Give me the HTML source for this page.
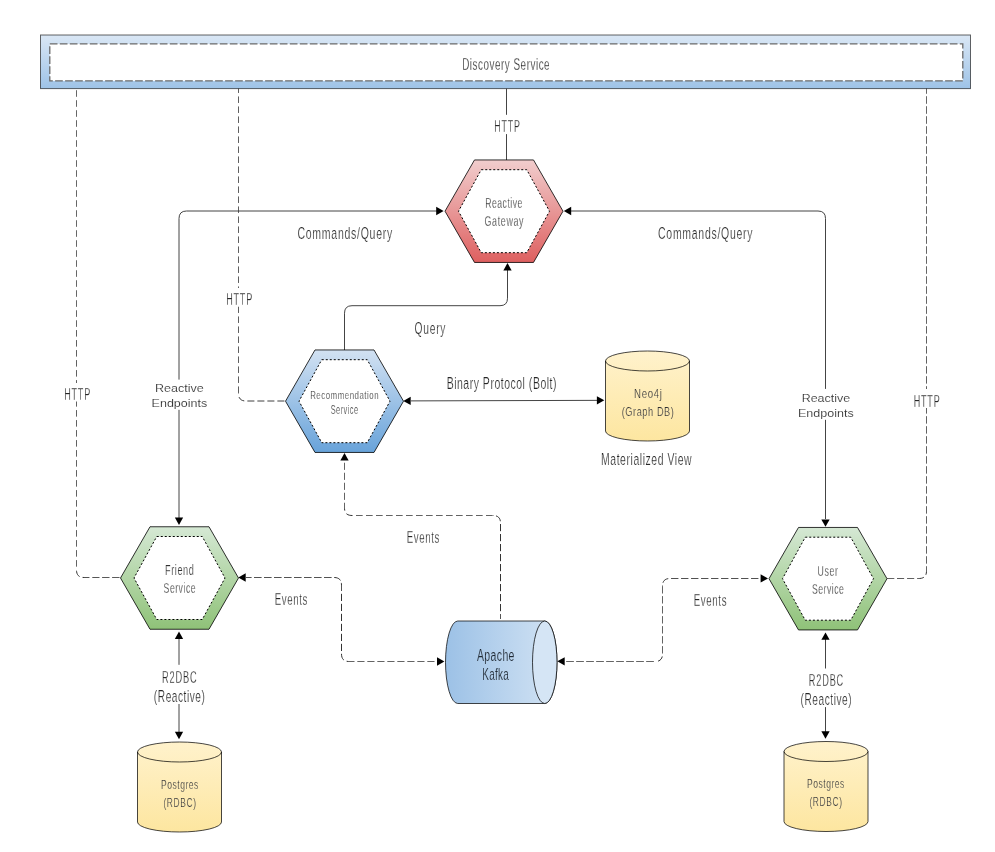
<!DOCTYPE html>
<html><head><meta charset="utf-8"><style>
html,body{margin:0;padding:0;background:#fff;}
svg{display:block;}
text{font-family:"Liberation Sans", sans-serif;}
svg{will-change:transform;}
</style></head><body>
<svg width="995" height="852" viewBox="0 0 995 852">
<defs>
<linearGradient id="gBox" x1="0" y1="0" x2="0" y2="1"><stop offset="0" stop-color="#dae7f5"/><stop offset="1" stop-color="#9ec3e7"/></linearGradient>
<linearGradient id="gRed" x1="0" y1="0" x2="0" y2="1"><stop offset="0" stop-color="#f1cdcd"/><stop offset="1" stop-color="#de6060"/></linearGradient>
<linearGradient id="gBlue" x1="0" y1="0" x2="0" y2="1"><stop offset="0" stop-color="#d2e1f2"/><stop offset="1" stop-color="#68a3da"/></linearGradient>
<linearGradient id="gGreen" x1="0" y1="0" x2="0" y2="1"><stop offset="0" stop-color="#d5e8d4"/><stop offset="1" stop-color="#8fc278"/></linearGradient>
<linearGradient id="gYel" x1="0" y1="0" x2="0" y2="1"><stop offset="0" stop-color="#fff2cc"/><stop offset="1" stop-color="#fde6a0"/></linearGradient>
<linearGradient id="gKafka" x1="0" y1="0" x2="1" y2="0"><stop offset="0" stop-color="#9cc1e6"/><stop offset="1" stop-color="#d2e3f4"/></linearGradient>
</defs>
<rect width="995" height="852" fill="#fff"/>
<rect x="40.5" y="35" width="930" height="53.6" fill="url(#gBox)" stroke="#000" stroke-opacity="0.6" stroke-width="1"/>
<rect x="49.8" y="43.9" width="913" height="37" fill="#fff" stroke="#6a6a6a" stroke-width="1.3" stroke-dasharray="7.7 2.3"/>
<path d="M506.5,88.5 V160" fill="none" stroke="#444" stroke-width="1"/>
<path d="M179.0,519 L179.00,218.50 Q179.0,211 186.50,211.00 L437,211" fill="none" stroke="#444" stroke-width="1"/>
<path d="M825.5,519 L825.50,218.50 Q825.5,211 818.00,211.00 L571,211" fill="none" stroke="#444" stroke-width="1"/>
<path d="M344.5,350 L344.50,313.20 Q344.5,305.7 352.00,305.70 L500.00,305.70 Q507.5,305.7 507.50,298.20 L507.5,270" fill="none" stroke="#444" stroke-width="1"/>
<path d="M411,400.9 L597,400.35" fill="none" stroke="#444" stroke-width="1"/>
<path d="M119.50,577.50 L119.30,577.50 L118.29,577.50 L117.29,577.50 L116.29,577.50 L115.29,577.50 L114.28,577.50 L113.28,577.50 L112.28,577.50 M109.47,577.50 L109.27,577.50 L108.27,577.50 L107.26,577.50 L106.26,577.50 L105.26,577.50 L104.26,577.50 L103.25,577.50 L102.25,577.50 M99.44,577.50 L99.24,577.50 L98.24,577.50 L97.24,577.50 L96.23,577.50 L95.23,577.50 L94.23,577.50 L93.23,577.50 L92.42,577.50 M89.41,577.50 L89.21,577.50 L88.21,577.50 L87.21,577.50 L86.21,577.50 L85.20,577.50 L84.20,577.50 L82.58,577.43 M79.67,576.58 L79.43,576.45 L78.38,575.62 L77.55,574.57 L76.97,573.28 L76.62,571.76 L76.52,570.73 M76.50,566.60 L76.50,566.40 L76.50,565.40 L76.50,564.40 L76.50,563.40 L76.50,562.40 L76.50,561.40 L76.50,560.40 L76.50,560.20 M76.50,556.60 L76.50,556.40 L76.50,555.40 L76.50,554.40 L76.50,553.40 L76.50,552.40 L76.50,551.40 L76.50,550.40 L76.50,550.20 M76.50,546.60 L76.50,546.40 L76.50,545.39 L76.50,544.39 L76.50,543.39 L76.50,542.39 L76.50,541.39 L76.50,540.39 L76.50,540.19 M76.50,536.59 L76.50,536.39 L76.50,535.39 L76.50,534.39 L76.50,533.39 L76.50,532.39 L76.50,531.39 L76.50,530.39 L76.50,530.19 M76.50,526.59 L76.50,526.39 L76.50,525.39 L76.50,524.39 L76.50,523.39 L76.50,522.39 L76.50,521.39 L76.50,520.39 L76.50,520.19 M76.50,516.59 L76.50,516.39 L76.50,515.39 L76.50,514.39 L76.50,513.39 L76.50,512.39 L76.50,511.39 L76.50,510.39 L76.50,510.19 M76.50,506.59 L76.50,506.39 L76.50,505.39 L76.50,504.39 L76.50,503.39 L76.50,502.39 L76.50,501.39 L76.50,500.39 L76.50,500.19 M76.50,496.58 L76.50,496.38 L76.50,495.38 L76.50,494.38 L76.50,493.38 L76.50,492.38 L76.50,491.38 L76.50,490.38 L76.50,490.18 M76.50,486.58 L76.50,486.38 L76.50,485.38 L76.50,484.38 L76.50,483.38 L76.50,482.38 L76.50,481.38 L76.50,480.38 L76.50,480.18 M76.50,476.58 L76.50,476.38 L76.50,475.38 L76.50,474.38 L76.50,473.38 L76.50,472.38 L76.50,471.38 L76.50,470.38 L76.50,470.18 M76.50,466.58 L76.50,466.38 L76.50,465.38 L76.50,464.38 L76.50,463.38 L76.50,462.38 L76.50,461.38 L76.50,460.38 L76.50,460.18 M76.50,456.58 L76.50,456.38 L76.50,455.38 L76.50,454.38 L76.50,453.38 L76.50,452.38 L76.50,451.38 L76.50,450.38 L76.50,450.18 M76.50,446.57 L76.50,446.37 L76.50,445.37 L76.50,444.37 L76.50,443.37 L76.50,442.37 L76.50,441.37 L76.50,440.37 L76.50,440.17 M76.50,436.57 L76.50,436.37 L76.50,435.37 L76.50,434.37 L76.50,433.37 L76.50,432.37 L76.50,431.37 L76.50,430.37 L76.50,430.17 M76.50,426.57 L76.50,426.37 L76.50,425.37 L76.50,424.37 L76.50,423.37 L76.50,422.37 L76.50,421.37 L76.50,420.37 L76.50,420.17 M76.50,416.57 L76.50,416.37 L76.50,415.37 L76.50,414.37 L76.50,413.37 L76.50,412.37 L76.50,411.37 L76.50,410.37 L76.50,410.17 M76.50,406.57 L76.50,406.37 L76.50,405.37 L76.50,404.37 L76.50,403.37 L76.50,402.37 L76.50,401.36 L76.50,400.36 L76.50,400.16 M76.50,396.56 L76.50,396.36 L76.50,395.36 L76.50,394.36 L76.50,393.36 L76.50,392.36 L76.50,391.36 L76.50,390.36 L76.50,390.16 M76.50,386.56 L76.50,386.36 L76.50,385.36 L76.50,384.36 L76.50,383.36 L76.50,382.36 L76.50,381.36 L76.50,380.36 L76.50,380.16 M76.50,376.56 L76.50,376.36 L76.50,375.36 L76.50,374.36 L76.50,373.36 L76.50,372.36 L76.50,371.36 L76.50,370.36 L76.50,370.16 M76.50,366.56 L76.50,366.36 L76.50,365.36 L76.50,364.36 L76.50,363.36 L76.50,362.36 L76.50,361.36 L76.50,360.36 L76.50,360.16 M76.50,356.56 L76.50,356.36 L76.50,355.36 L76.50,354.36 L76.50,353.36 L76.50,352.35 L76.50,351.35 L76.50,350.35 L76.50,350.15 M76.50,346.55 L76.50,346.35 L76.50,345.35 L76.50,344.35 L76.50,343.35 L76.50,342.35 L76.50,341.35 L76.50,340.35 L76.50,340.15 M76.50,336.55 L76.50,336.35 L76.50,335.35 L76.50,334.35 L76.50,333.35 L76.50,332.35 L76.50,331.35 L76.50,330.35 L76.50,330.15 M76.50,326.75 L76.50,326.55 L76.50,325.55 L76.50,324.55 L76.50,323.55 L76.50,322.55 L76.50,321.55 L76.50,320.55 L76.50,320.35 M76.50,316.75 L76.50,316.55 L76.50,315.55 L76.50,314.55 L76.50,313.55 L76.50,312.55 L76.50,311.55 L76.50,310.55 L76.50,310.35 M76.50,306.75 L76.50,306.55 L76.50,305.55 L76.50,304.54 L76.50,303.54 L76.50,302.54 L76.50,301.54 L76.50,300.54 L76.50,300.34 M76.50,296.74 L76.50,296.54 L76.50,295.54 L76.50,294.54 L76.50,293.54 L76.50,292.54 L76.50,291.54 L76.50,290.54 L76.50,290.34 M76.50,286.74 L76.50,286.54 L76.50,285.54 L76.50,284.54 L76.50,283.54 L76.50,282.54 L76.50,281.54 L76.50,280.54 L76.50,280.34 M76.50,276.74 L76.50,276.54 L76.50,275.54 L76.50,274.54 L76.50,273.54 L76.50,272.54 L76.50,271.54 L76.50,270.54 L76.50,270.34 M76.50,266.74 L76.50,266.54 L76.50,265.54 L76.50,264.54 L76.50,263.54 L76.50,262.54 L76.50,261.54 L76.50,260.54 L76.50,260.34 M76.50,256.73 L76.50,256.53 L76.50,255.53 L76.50,254.53 L76.50,253.53 L76.50,252.53 L76.50,251.53 L76.50,250.53 L76.50,250.33 M76.50,246.73 L76.50,246.53 L76.50,245.53 L76.50,244.53 L76.50,243.53 L76.50,242.53 L76.50,241.53 L76.50,240.53 L76.50,240.33 M76.50,236.73 L76.50,236.53 L76.50,235.53 L76.50,234.53 L76.50,233.53 L76.50,232.53 L76.50,231.53 L76.50,230.53 L76.50,230.33 M76.50,226.73 L76.50,226.53 L76.50,225.53 L76.50,224.53 L76.50,223.53 L76.50,222.53 L76.50,221.53 L76.50,220.53 L76.50,220.33 M76.50,216.73 L76.50,216.53 L76.50,215.53 L76.50,214.53 L76.50,213.53 L76.50,212.53 L76.50,211.53 L76.50,210.53 L76.50,210.33 M76.50,206.72 L76.50,206.52 L76.50,205.52 L76.50,204.52 L76.50,203.52 L76.50,202.52 L76.50,201.52 L76.50,200.52 L76.50,200.32 M76.50,196.72 L76.50,196.52 L76.50,195.52 L76.50,194.52 L76.50,193.52 L76.50,192.52 L76.50,191.52 L76.50,190.52 L76.50,190.32 M76.50,186.72 L76.50,186.52 L76.50,185.52 L76.50,184.52 L76.50,183.52 L76.50,182.52 L76.50,181.52 L76.50,180.52 L76.50,180.32 M76.50,176.72 L76.50,176.52 L76.50,175.52 L76.50,174.52 L76.50,173.52 L76.50,172.52 L76.50,171.52 L76.50,170.52 L76.50,170.32 M76.50,166.72 L76.50,166.52 L76.50,165.52 L76.50,164.52 L76.50,163.52 L76.50,162.52 L76.50,161.52 L76.50,160.51 L76.50,160.31 M76.50,156.71 L76.50,156.51 L76.50,155.51 L76.50,154.51 L76.50,153.51 L76.50,152.51 L76.50,151.51 L76.50,150.51 L76.50,150.31 M76.50,146.71 L76.50,146.51 L76.50,145.51 L76.50,144.51 L76.50,143.51 L76.50,142.51 L76.50,141.51 L76.50,140.51 L76.50,140.31 M76.50,136.71 L76.50,136.51 L76.50,135.51 L76.50,134.51 L76.50,133.51 L76.50,132.51 L76.50,131.51 L76.50,130.51 L76.50,130.31 M76.50,126.71 L76.50,126.51 L76.50,125.51 L76.50,124.51 L76.50,123.51 L76.50,122.51 L76.50,121.51 L76.50,120.51 L76.50,120.31 M76.50,116.71 L76.50,116.51 L76.50,115.51 L76.50,114.51 L76.50,113.51 L76.50,112.50 L76.50,111.50 L76.50,110.50 L76.50,110.30 M76.50,106.70 L76.50,106.50 L76.50,105.50 L76.50,104.50 L76.50,103.50 L76.50,102.50 L76.50,101.50 L76.50,100.50 L76.50,100.30 M76.50,96.70 L76.50,96.50 L76.50,95.50 L76.50,94.50 L76.50,93.50 L76.50,92.50 L76.50,91.50 L76.50,90.50 L76.50,90.30" fill="none" stroke="#333" stroke-width="1"/>
<path d="M284.40,401.00 L284.20,401.00 L283.20,401.00 L282.20,401.00 L281.20,401.00 L280.20,401.00 L279.20,401.00 L278.20,401.00 L277.40,401.00 M274.40,401.00 L274.20,401.00 L273.20,401.00 L272.20,401.00 L271.20,401.00 L270.20,401.00 L269.20,401.00 L268.20,401.00 L267.40,401.00 M264.40,401.00 L264.20,401.00 L263.20,401.00 L262.20,401.00 L261.20,401.00 L260.20,401.00 L259.20,401.00 L258.20,401.00 L257.40,401.00 M254.40,401.00 L254.20,401.00 L253.20,401.00 L252.20,401.00 L251.20,401.00 L250.20,401.00 L249.20,401.00 L248.20,401.00 L247.40,401.00 M244.24,400.88 L243.92,400.83 L242.44,400.43 L241.20,399.80 L240.19,398.93 L239.42,397.83 L239.07,397.06 M238.50,393.87 L238.50,393.50 M238.50,392.90 L238.50,392.70 L238.50,391.70 L238.50,390.70 L238.50,389.70 L238.50,388.70 L238.50,387.70 L238.50,386.70 L238.50,386.50 M238.50,382.90 L238.50,382.70 L238.50,381.70 L238.50,380.70 L238.50,379.70 L238.50,378.70 L238.50,377.70 L238.50,376.70 L238.50,376.50 M238.50,372.90 L238.50,372.70 L238.50,371.70 L238.50,370.70 L238.50,369.70 L238.50,368.70 L238.50,367.70 L238.50,366.70 L238.50,366.50 M238.50,362.90 L238.50,362.70 L238.50,361.70 L238.50,360.70 L238.50,359.70 L238.50,358.70 L238.50,357.70 L238.50,356.70 L238.50,356.50 M238.50,352.90 L238.50,352.70 L238.50,351.70 L238.50,350.70 L238.50,349.70 L238.50,348.70 L238.50,347.70 L238.50,346.70 L238.50,346.50 M238.50,342.90 L238.50,342.70 L238.50,341.70 L238.50,340.70 L238.50,339.70 L238.50,338.70 L238.50,337.70 L238.50,336.70 L238.50,336.50 M238.50,332.90 L238.50,332.70 L238.50,331.70 L238.50,330.70 L238.50,329.70 L238.50,328.70 L238.50,327.70 L238.50,326.70 L238.50,326.50 M238.50,322.90 L238.50,322.70 L238.50,321.70 L238.50,320.70 L238.50,319.70 L238.50,318.70 L238.50,317.70 L238.50,316.70 L238.50,316.50 M238.50,312.90 L238.50,312.70 L238.50,311.70 L238.50,310.70 L238.50,309.70 L238.50,308.70 L238.50,307.70 L238.50,306.70 L238.50,306.50 M238.50,302.90 L238.50,302.70 L238.50,301.70 L238.50,300.70 L238.50,299.70 L238.50,298.70 L238.50,297.70 L238.50,296.70 L238.50,296.50 M238.50,292.90 L238.50,292.70 L238.50,291.70 L238.50,290.70 L238.50,289.70 L238.50,288.70 L238.50,287.70 L238.50,286.70 L238.50,286.50 M238.50,282.90 L238.50,282.70 L238.50,281.70 L238.50,280.70 L238.50,279.70 L238.50,278.70 L238.50,277.70 L238.50,276.70 L238.50,276.50 M238.50,272.90 L238.50,272.70 L238.50,271.70 L238.50,270.70 L238.50,269.70 L238.50,268.70 L238.50,267.70 L238.50,266.70 L238.50,266.50 M238.50,262.90 L238.50,262.70 L238.50,261.70 L238.50,260.70 L238.50,259.70 L238.50,258.70 L238.50,257.70 L238.50,256.70 L238.50,256.50 M238.50,252.90 L238.50,252.70 L238.50,251.70 L238.50,250.70 L238.50,249.70 L238.50,248.70 L238.50,247.70 L238.50,246.70 L238.50,246.50 M238.50,242.90 L238.50,242.70 L238.50,241.70 L238.50,240.70 L238.50,239.70 L238.50,238.70 L238.50,237.70 L238.50,236.70 L238.50,236.50 M238.50,232.90 L238.50,232.70 L238.50,231.70 L238.50,230.70 L238.50,229.70 L238.50,228.70 L238.50,227.70 L238.50,226.70 L238.50,226.50 M238.50,222.90 L238.50,222.70 L238.50,221.70 L238.50,220.70 L238.50,219.70 L238.50,218.70 L238.50,217.70 L238.50,216.70 L238.50,216.50 M238.50,212.90 L238.50,212.70 L238.50,211.70 L238.50,210.70 L238.50,209.70 L238.50,208.70 L238.50,207.70 L238.50,206.70 L238.50,206.50 M238.50,202.90 L238.50,202.70 L238.50,201.70 L238.50,200.70 L238.50,199.70 L238.50,198.70 L238.50,197.70 L238.50,196.70 L238.50,196.50 M238.50,192.90 L238.50,192.70 L238.50,191.70 L238.50,190.70 L238.50,189.70 L238.50,188.70 L238.50,187.70 L238.50,186.70 L238.50,186.50 M238.50,182.90 L238.50,182.70 L238.50,181.70 L238.50,180.70 L238.50,179.70 L238.50,178.70 L238.50,177.70 L238.50,176.70 L238.50,176.50 M238.50,172.90 L238.50,172.70 L238.50,171.70 L238.50,170.70 L238.50,169.70 L238.50,168.70 L238.50,167.70 L238.50,166.70 L238.50,166.50 M238.50,162.90 L238.50,162.70 L238.50,161.70 L238.50,160.70 L238.50,159.70 L238.50,158.70 L238.50,157.70 L238.50,156.70 L238.50,156.50 M238.50,152.90 L238.50,152.70 L238.50,151.70 L238.50,150.70 L238.50,149.70 L238.50,148.70 L238.50,147.70 L238.50,146.70 L238.50,146.50 M238.50,142.90 L238.50,142.70 L238.50,141.70 L238.50,140.70 L238.50,139.70 L238.50,138.70 L238.50,137.70 L238.50,136.70 L238.50,136.50 M238.50,132.90 L238.50,132.70 L238.50,131.70 L238.50,130.70 L238.50,129.70 L238.50,128.70 L238.50,127.70 L238.50,126.70 L238.50,126.50 M238.50,122.90 L238.50,122.70 L238.50,121.70 L238.50,120.70 L238.50,119.70 L238.50,118.70 L238.50,117.70 L238.50,116.70 L238.50,116.50 M238.50,112.90 L238.50,112.70 L238.50,111.70 L238.50,110.70 L238.50,109.70 L238.50,108.70 L238.50,107.70 L238.50,106.70 L238.50,106.50 M238.50,102.90 L238.50,102.70 L238.50,101.70 L238.50,100.70 L238.50,99.70 L238.50,98.70 L238.50,97.70 L238.50,96.70 L238.50,96.50 M238.50,92.90 L238.50,92.70 L238.50,91.70 L238.50,90.70 L238.50,89.70 L238.50,88.70 L238.50,88.50" fill="none" stroke="#333" stroke-width="1"/>
<path d="M887.20,578.50 L887.40,578.50 L888.41,578.50 L889.41,578.50 L890.42,578.50 L891.43,578.50 L892.43,578.50 L893.44,578.50 L894.24,578.50 M897.06,578.50 L897.26,578.50 L898.27,578.50 L899.28,578.50 L900.28,578.50 L901.29,578.50 L902.29,578.50 L903.30,578.50 L904.11,578.50 M907.13,578.50 L907.33,578.50 L908.33,578.50 L909.34,578.50 L910.35,578.50 L911.35,578.50 L912.36,578.50 L913.36,578.50 L914.17,578.50 M917.19,578.50 L917.39,578.50 L918.40,578.50 L919.73,578.48 L921.40,578.27 L922.82,577.82 L923.80,577.30 M925.83,574.83 L925.93,574.56 L926.33,573.08 L926.50,571.37 L926.50,570.40 L926.50,569.40 L926.50,568.40 L926.50,567.40 L926.50,566.40 M926.50,563.60 L926.50,563.40 L926.50,562.40 L926.50,561.40 L926.50,560.40 L926.50,559.40 L926.50,558.40 L926.50,557.40 L926.50,556.40 M926.50,553.60 L926.50,553.40 L926.50,552.40 L926.50,551.40 L926.50,550.40 L926.50,549.40 L926.50,548.40 L926.50,547.40 L926.50,546.39 M926.50,543.59 L926.50,543.39 L926.50,542.39 L926.50,541.39 L926.50,540.39 L926.50,539.39 L926.50,538.39 L926.50,537.39 L926.50,536.39 M926.50,533.59 L926.50,533.39 L926.50,532.39 L926.50,531.39 L926.50,530.39 L926.50,529.39 L926.50,528.39 L926.50,527.39 L926.50,526.39 M926.50,523.59 L926.50,523.39 L926.50,522.39 L926.50,521.39 L926.50,520.39 L926.50,519.39 L926.50,518.39 L926.50,517.39 L926.50,516.39 M926.50,513.59 L926.50,513.39 L926.50,512.39 L926.50,511.39 L926.50,510.39 L926.50,509.39 L926.50,508.39 L926.50,507.39 L926.50,506.39 M926.50,503.59 L926.50,503.39 L926.50,502.39 L926.50,501.39 L926.50,500.39 L926.50,499.39 L926.50,498.38 L926.50,497.38 L926.50,496.38 M926.50,493.58 L926.50,493.38 L926.50,492.38 L926.50,491.38 L926.50,490.38 L926.50,489.38 L926.50,488.38 L926.50,487.38 L926.50,486.38 M926.50,483.58 L926.50,483.38 L926.50,482.38 L926.50,481.38 L926.50,480.38 L926.50,479.38 L926.50,478.38 L926.50,477.38 L926.50,476.38 M926.50,473.58 L926.50,473.38 L926.50,472.38 L926.50,471.38 L926.50,470.38 L926.50,469.38 L926.50,468.38 L926.50,467.38 L926.50,466.38 M926.50,463.58 L926.50,463.38 L926.50,462.38 L926.50,461.38 L926.50,460.38 L926.50,459.38 L926.50,458.38 L926.50,457.38 L926.50,456.38 M926.50,453.58 L926.50,453.38 L926.50,452.38 L926.50,451.38 L926.50,450.38 L926.50,449.37 L926.50,448.37 L926.50,447.37 L926.50,446.37 M926.50,443.57 L926.50,443.37 L926.50,442.37 L926.50,441.37 L926.50,440.37 L926.50,439.37 L926.50,438.37 L926.50,437.37 L926.50,436.37 M926.50,433.57 L926.50,433.37 L926.50,432.37 L926.50,431.37 L926.50,430.37 L926.50,429.37 L926.50,428.37 L926.50,427.37 L926.50,426.37 M926.50,423.57 L926.50,423.37 L926.50,422.37 L926.50,421.37 L926.50,420.37 L926.50,419.37 L926.50,418.37 L926.50,417.37 L926.50,416.37 M926.50,413.57 L926.50,413.37 L926.50,412.37 L926.50,411.37 L926.50,410.37 L926.50,409.37 L926.50,408.37 L926.50,407.37 L926.50,406.37 M926.50,403.57 L926.50,403.37 L926.50,402.37 L926.50,401.36 L926.50,400.36 L926.50,399.36 L926.50,398.36 L926.50,397.36 L926.50,396.36 M926.50,393.56 L926.50,393.36 L926.50,392.36 L926.50,391.36 L926.50,390.36 L926.50,389.36 L926.50,388.36 L926.50,387.36 L926.50,386.36 M926.50,383.56 L926.50,383.36 L926.50,382.36 L926.50,381.36 L926.50,380.36 L926.50,379.36 L926.50,378.36 L926.50,377.36 L926.50,376.36 M926.50,373.56 L926.50,373.36 L926.50,372.36 L926.50,371.36 L926.50,370.36 L926.50,369.36 L926.50,368.36 L926.50,367.36 L926.50,366.36 M926.50,363.56 L926.50,363.36 L926.50,362.36 L926.50,361.36 L926.50,360.36 L926.50,359.36 L926.50,358.36 L926.50,357.36 L926.50,356.36 M926.50,353.55 L926.50,353.35 L926.50,352.35 L926.50,351.35 L926.50,350.35 L926.50,349.35 L926.50,348.35 L926.50,347.35 L926.50,346.35 M926.50,343.55 L926.50,343.35 L926.50,342.35 L926.50,341.35 L926.50,340.35 L926.50,339.35 L926.50,338.35 L926.50,337.35 L926.50,336.35 M926.50,333.55 L926.50,333.35 L926.50,332.35 L926.50,331.35 L926.50,330.35 L926.50,329.35 L926.50,328.35 L926.50,327.35 L926.50,326.35 M926.50,323.75 L926.50,323.55 L926.50,322.55 L926.50,321.55 L926.50,320.55 L926.50,319.55 L926.50,318.55 L926.50,317.55 L926.50,316.55 L926.50,316.35 M926.50,313.75 L926.50,313.55 L926.50,312.55 L926.50,311.55 L926.50,310.55 L926.50,309.55 L926.50,308.55 L926.50,307.55 L926.50,306.55 L926.50,306.35 M926.50,303.74 L926.50,303.54 L926.50,302.54 L926.50,301.54 L926.50,300.54 L926.50,299.54 L926.50,298.54 L926.50,297.54 L926.50,296.54 L926.50,296.34 M926.50,293.74 L926.50,293.54 L926.50,292.54 L926.50,291.54 L926.50,290.54 L926.50,289.54 L926.50,288.54 L926.50,287.54 L926.50,286.54 L926.50,286.34 M926.50,283.74 L926.50,283.54 L926.50,282.54 L926.50,281.54 L926.50,280.54 L926.50,279.54 L926.50,278.54 L926.50,277.54 L926.50,276.54 L926.50,276.34 M926.50,273.74 L926.50,273.54 L926.50,272.54 L926.50,271.54 L926.50,270.54 L926.50,269.54 L926.50,268.54 L926.50,267.54 L926.50,266.54 L926.50,266.34 M926.50,263.74 L926.50,263.54 L926.50,262.54 L926.50,261.54 L926.50,260.54 L926.50,259.54 L926.50,258.54 L926.50,257.54 L926.50,256.53 L926.50,256.33 M926.50,253.73 L926.50,253.53 L926.50,252.53 L926.50,251.53 L926.50,250.53 L926.50,249.53 L926.50,248.53 L926.50,247.53 L926.50,246.53 L926.50,246.33 M926.50,243.73 L926.50,243.53 L926.50,242.53 L926.50,241.53 L926.50,240.53 L926.50,239.53 L926.50,238.53 L926.50,237.53 L926.50,236.53 L926.50,236.33 M926.50,233.73 L926.50,233.53 L926.50,232.53 L926.50,231.53 L926.50,230.53 L926.50,229.53 L926.50,228.53 L926.50,227.53 L926.50,226.53 L926.50,226.33 M926.50,223.73 L926.50,223.53 L926.50,222.53 L926.50,221.53 L926.50,220.53 L926.50,219.53 L926.50,218.53 L926.50,217.53 L926.50,216.53 L926.50,216.33 M926.50,213.73 L926.50,213.53 L926.50,212.53 L926.50,211.53 L926.50,210.53 L926.50,209.53 L926.50,208.52 L926.50,207.52 L926.50,206.52 L926.50,206.32 M926.50,203.72 L926.50,203.52 L926.50,202.52 L926.50,201.52 L926.50,200.52 L926.50,199.52 L926.50,198.52 L926.50,197.52 L926.50,196.52 L926.50,196.32 M926.50,193.72 L926.50,193.52 L926.50,192.52 L926.50,191.52 L926.50,190.52 L926.50,189.52 L926.50,188.52 L926.50,187.52 L926.50,186.52 L926.50,186.32 M926.50,183.72 L926.50,183.52 L926.50,182.52 L926.50,181.52 L926.50,180.52 L926.50,179.52 L926.50,178.52 L926.50,177.52 L926.50,176.52 L926.50,176.32 M926.50,173.72 L926.50,173.52 L926.50,172.52 L926.50,171.52 L926.50,170.52 L926.50,169.52 L926.50,168.52 L926.50,167.52 L926.50,166.52 L926.50,166.32 M926.50,163.72 L926.50,163.52 L926.50,162.52 L926.50,161.52 L926.50,160.51 L926.50,159.51 L926.50,158.51 L926.50,157.51 L926.50,156.51 L926.50,156.31 M926.50,153.71 L926.50,153.51 L926.50,152.51 L926.50,151.51 L926.50,150.51 L926.50,149.51 L926.50,148.51 L926.50,147.51 L926.50,146.51 L926.50,146.31 M926.50,143.71 L926.50,143.51 L926.50,142.51 L926.50,141.51 L926.50,140.51 L926.50,139.51 L926.50,138.51 L926.50,137.51 L926.50,136.51 L926.50,136.31 M926.50,133.71 L926.50,133.51 L926.50,132.51 L926.50,131.51 L926.50,130.51 L926.50,129.51 L926.50,128.51 L926.50,127.51 L926.50,126.51 L926.50,126.31 M926.50,123.71 L926.50,123.51 L926.50,122.51 L926.50,121.51 L926.50,120.51 L926.50,119.51 L926.50,118.51 L926.50,117.51 L926.50,116.51 L926.50,116.31 M926.50,113.71 L926.50,113.51 L926.50,112.50 L926.50,111.50 L926.50,110.50 L926.50,109.50 L926.50,108.50 L926.50,107.50 L926.50,106.50 L926.50,106.30 M926.50,103.70 L926.50,103.50 L926.50,102.50 L926.50,101.50 L926.50,100.50 L926.50,99.50 L926.50,98.50 L926.50,97.50 L926.50,96.50 L926.50,96.30 M926.50,93.70 L926.50,93.50 L926.50,92.50 L926.50,91.50 L926.50,90.50 L926.50,89.50 L926.50,88.50" fill="none" stroke="#333" stroke-width="1"/>
<path d="M246.00,577.50 L246.20,577.50 L247.20,577.50 L248.20,577.50 L249.20,577.50 L250.20,577.50 L251.20,577.50 L251.60,577.50 M254.00,577.50 L254.20,577.50 L255.20,577.50 L256.20,577.50 L257.20,577.50 L258.20,577.50 L259.20,577.50 L260.20,577.50 L261.20,577.50 L261.60,577.50 M264.00,577.50 L264.20,577.50 L265.20,577.50 L266.20,577.50 L267.20,577.50 L268.20,577.50 L269.20,577.50 L270.20,577.50 L271.20,577.50 L271.60,577.50 M274.00,577.50 L274.20,577.50 L275.20,577.50 L276.20,577.50 L277.20,577.50 L278.20,577.50 L279.20,577.50 L280.20,577.50 L281.20,577.50 L281.60,577.50 M284.00,577.50 L284.20,577.50 L285.20,577.50 L286.20,577.50 L287.20,577.50 L288.20,577.50 L289.20,577.50 L290.20,577.50 L291.20,577.50 L291.60,577.50 M294.00,577.50 L294.20,577.50 L295.20,577.50 L296.20,577.50 L297.20,577.50 L298.20,577.50 L299.20,577.50 L300.20,577.50 L301.20,577.50 L301.60,577.50 M304.00,577.50 L304.20,577.50 L305.20,577.50 L306.20,577.50 L307.20,577.50 L308.20,577.50 L309.20,577.50 L310.20,577.50 L311.20,577.50 L311.60,577.50 M314.00,577.50 L314.20,577.50 L315.20,577.50 L316.20,577.50 L317.20,577.50 L318.20,577.50 L319.20,577.50 L320.20,577.50 L321.20,577.50 L321.60,577.50 M324.00,577.50 L324.20,577.50 L325.20,577.50 L326.20,577.50 L327.20,577.50 L328.20,577.50 L329.20,577.50 L330.20,577.50 L331.20,577.50 L331.60,577.50 M334.00,577.50 L334.37,577.50 L336.08,577.67 L337.56,578.07 L338.80,578.70 L339.81,579.57 L340.45,580.43 M341.33,582.92 L341.38,583.24 L341.50,585.00 L341.50,585.80 L341.50,586.80 L341.50,587.80 L341.50,588.80 L341.50,589.80 L341.50,590.80 L341.50,591.00 M341.50,593.80 L341.50,594.00 L341.50,595.00 L341.50,596.00 L341.50,597.00 L341.50,598.00 L341.50,599.00 L341.50,600.00 L341.50,601.00 M341.50,603.80 L341.50,604.00 L341.50,605.00 L341.50,606.00 L341.50,607.00 L341.50,608.00 L341.50,609.00 L341.50,610.00 L341.50,611.00 M341.50,613.80 L341.50,614.00 L341.50,615.00 L341.50,616.00 L341.50,617.00 L341.50,618.00 L341.50,619.00 L341.50,620.00 L341.50,621.00 M341.50,623.80 L341.50,624.00 L341.50,625.00 L341.50,626.00 L341.50,627.00 L341.50,628.00 L341.50,629.00 L341.50,630.00 L341.50,631.00 M341.50,633.80 L341.50,634.00 L341.50,635.00 L341.50,636.00 L341.50,637.00 L341.50,638.00 L341.50,639.00 L341.50,640.00 L341.50,641.00 M341.50,643.80 L341.50,644.00 L341.50,645.00 L341.50,646.00 L341.50,647.00 L341.50,648.00 L341.50,649.00 L341.50,650.00 L341.50,651.00 M341.50,653.80 L341.50,654.00 L341.62,655.76 L341.97,657.28 L342.55,658.57 L343.38,659.62 L343.98,660.15 M346.60,661.27 L346.92,661.33 L348.63,661.50 L349.60,661.50 L350.60,661.50 L351.60,661.50 L352.60,661.50 L353.60,661.50 L354.40,661.50 M357.40,661.50 L357.60,661.50 L358.60,661.50 L359.60,661.50 L360.60,661.50 L361.60,661.50 L362.60,661.50 L363.60,661.50 L364.40,661.50 M367.40,661.50 L367.60,661.50 L368.60,661.50 L369.60,661.50 L370.60,661.50 L371.60,661.50 L372.60,661.50 L373.60,661.50 L374.40,661.50 M377.40,661.50 L377.60,661.50 L378.60,661.50 L379.60,661.50 L380.60,661.50 L381.60,661.50 L382.60,661.50 L383.60,661.50 L384.40,661.50 M387.40,661.50 L387.60,661.50 L388.60,661.50 L389.60,661.50 L390.60,661.50 L391.60,661.50 L392.60,661.50 L393.60,661.50 L394.40,661.50 M397.40,661.50 L397.60,661.50 L398.60,661.50 L399.60,661.50 L400.60,661.50 L401.60,661.50 L402.60,661.50 L403.60,661.50 L404.40,661.50 M407.40,661.50 L407.60,661.50 L408.60,661.50 L409.60,661.50 L410.60,661.50 L411.60,661.50 L412.60,661.50 L413.60,661.50 L414.40,661.50 M417.40,661.50 L417.60,661.50 L418.60,661.50 L419.60,661.50 L420.60,661.50 L421.60,661.50 L422.60,661.50 L423.60,661.50 L424.40,661.50 M427.40,661.50 L427.60,661.50 L428.60,661.50 L429.60,661.50 L430.60,661.50 L431.60,661.50 L432.60,661.50 L433.60,661.50 L434.40,661.50" fill="none" stroke="#333" stroke-width="1"/>
<path d="M500.50,619.00 L500.50,618.80 L500.50,617.80 L500.50,616.80 L500.50,615.80 L500.50,614.80 L500.50,614.00 M500.50,611.20 L500.50,611.00 L500.50,610.00 L500.50,609.00 L500.50,608.00 L500.50,607.00 L500.50,606.00 L500.50,605.00 L500.50,604.00 M500.50,601.20 L500.50,601.00 L500.50,600.00 L500.50,599.00 L500.50,598.00 L500.50,597.00 L500.50,596.00 L500.50,595.00 L500.50,594.00 M500.50,591.20 L500.50,591.00 L500.50,590.00 L500.50,589.00 L500.50,588.00 L500.50,587.00 L500.50,586.00 L500.50,585.00 L500.50,584.00 M500.50,581.20 L500.50,581.00 L500.50,580.00 L500.50,579.00 L500.50,578.00 L500.50,577.00 L500.50,576.00 L500.50,575.00 L500.50,574.00 M500.50,571.20 L500.50,571.00 L500.50,570.00 L500.50,569.00 L500.50,568.00 L500.50,567.00 L500.50,566.00 L500.50,565.00 L500.50,564.00 M500.50,561.20 L500.50,561.00 L500.50,560.00 L500.50,559.00 L500.50,558.00 L500.50,557.00 L500.50,556.00 L500.50,555.00 L500.50,554.00 M500.50,551.20 L500.50,551.00 L500.50,550.00 L500.50,549.00 L500.50,548.00 L500.50,547.00 L500.50,546.00 L500.50,545.00 L500.50,544.00 M500.50,541.20 L500.50,541.00 L500.50,540.00 L500.50,539.00 L500.50,538.00 L500.50,537.00 L500.50,536.00 L500.50,535.00 L500.50,534.00 M500.50,531.20 L500.50,531.00 L500.50,530.00 L500.50,529.00 L500.50,528.00 L500.50,527.00 L500.50,526.00 L500.50,525.00 L500.50,524.00 M500.38,521.24 L500.33,520.92 L499.93,519.44 L499.30,518.20 L498.43,517.19 L497.33,516.42 L496.00,515.88 M493.37,515.50 L493.00,515.50 M492.60,515.50 L492.40,515.50 L491.40,515.50 L490.40,515.50 L489.40,515.50 L488.40,515.50 L487.40,515.50 L486.40,515.50 L486.00,515.50 M482.60,515.50 L482.40,515.50 L481.40,515.50 L480.40,515.50 L479.40,515.50 L478.40,515.50 L477.40,515.50 L476.40,515.50 L476.00,515.50 M472.60,515.50 L472.40,515.50 L471.40,515.50 L470.40,515.50 L469.40,515.50 L468.40,515.50 L467.40,515.50 L466.40,515.50 L466.00,515.50 M462.60,515.50 L462.40,515.50 L461.40,515.50 L460.40,515.50 L459.40,515.50 L458.40,515.50 L457.40,515.50 L456.40,515.50 L456.00,515.50 M452.60,515.50 L452.40,515.50 L451.40,515.50 L450.40,515.50 L449.40,515.50 L448.40,515.50 L447.40,515.50 L446.40,515.50 L446.00,515.50 M442.60,515.50 L442.40,515.50 L441.40,515.50 L440.40,515.50 L439.40,515.50 L438.40,515.50 L437.40,515.50 L436.40,515.50 L436.00,515.50 M432.60,515.50 L432.40,515.50 L431.40,515.50 L430.40,515.50 L429.40,515.50 L428.40,515.50 L427.40,515.50 L426.40,515.50 L426.00,515.50 M422.60,515.50 L422.40,515.50 L421.40,515.50 L420.40,515.50 L419.40,515.50 L418.40,515.50 L417.40,515.50 L416.40,515.50 L416.00,515.50 M412.60,515.50 L412.40,515.50 L411.40,515.50 L410.40,515.50 L409.40,515.50 L408.40,515.50 L407.40,515.50 L406.40,515.50 L406.00,515.50 M402.60,515.50 L402.40,515.50 L401.40,515.50 L400.40,515.50 L399.40,515.50 L398.40,515.50 L397.40,515.50 L396.40,515.50 L396.00,515.50 M392.60,515.50 L392.40,515.50 L391.40,515.50 L390.40,515.50 L389.40,515.50 L388.40,515.50 L387.40,515.50 L386.40,515.50 L386.00,515.50 M382.60,515.50 L382.40,515.50 L381.40,515.50 L380.40,515.50 L379.40,515.50 L378.40,515.50 L377.40,515.50 L376.40,515.50 L376.00,515.50 M372.60,515.50 L372.40,515.50 L371.40,515.50 L370.40,515.50 L369.40,515.50 L368.40,515.50 L367.40,515.50 L366.40,515.50 L366.00,515.50 M362.60,515.50 L362.40,515.50 L361.40,515.50 L360.40,515.50 L359.40,515.50 L358.40,515.50 L357.40,515.50 L356.40,515.50 L356.00,515.50 M352.60,515.50 L352.40,515.50 L350.92,515.46 L349.30,515.20 L347.92,514.71 L346.77,513.98 L346.38,513.62 M344.80,510.70 L344.73,510.40 L344.52,508.73 L344.50,507.60 L344.50,506.60 L344.50,505.60 L344.50,504.60 L344.50,503.60 L344.50,502.80 M344.50,499.80 L344.50,499.60 L344.50,498.60 L344.50,497.60 L344.50,496.60 L344.50,495.60 L344.50,494.60 L344.50,493.60 L344.50,492.80 M344.50,489.80 L344.50,489.60 L344.50,488.60 L344.50,487.60 L344.50,486.60 L344.50,485.60 L344.50,484.60 L344.50,483.60 L344.50,482.80 M344.50,479.80 L344.50,479.60 L344.50,478.60 L344.50,477.60 L344.50,476.60 L344.50,475.60 L344.50,474.60 L344.50,473.60 L344.50,472.80 M344.50,469.80 L344.50,469.60 L344.50,468.60 L344.50,467.60 L344.50,466.60 L344.50,465.60 L344.50,464.60 L344.50,463.60 L344.50,462.80" fill="none" stroke="#333" stroke-width="1"/>
<path d="M758.40,578.50 L758.20,578.50 L757.20,578.50 L756.20,578.50 L755.20,578.50 L754.20,578.50 L753.20,578.50 L752.20,578.50 L751.20,578.50 M748.40,578.50 L748.20,578.50 L747.20,578.50 L746.20,578.50 L745.20,578.50 L744.20,578.50 L743.20,578.50 L742.20,578.50 L741.20,578.50 M738.40,578.50 L738.20,578.50 L737.20,578.50 L736.20,578.50 L735.20,578.50 L734.20,578.50 L733.20,578.50 L732.20,578.50 L731.20,578.50 M728.40,578.50 L728.20,578.50 L727.20,578.50 L726.20,578.50 L725.20,578.50 L724.20,578.50 L723.20,578.50 L722.20,578.50 L721.20,578.50 M718.40,578.50 L718.20,578.50 L717.20,578.50 L716.20,578.50 L715.20,578.50 L714.20,578.50 L713.20,578.50 L712.20,578.50 L711.20,578.50 M708.40,578.50 L708.20,578.50 L707.20,578.50 L706.20,578.50 L705.20,578.50 L704.20,578.50 L703.20,578.50 L702.20,578.50 L701.20,578.50 M698.40,578.50 L698.20,578.50 L697.20,578.50 L696.20,578.50 L695.20,578.50 L694.20,578.50 L693.20,578.50 L692.20,578.50 L691.20,578.50 M688.40,578.50 L688.20,578.50 L687.20,578.50 L686.20,578.50 L685.20,578.50 L684.20,578.50 L683.20,578.50 L682.20,578.50 L681.20,578.50 M678.40,578.50 L678.20,578.50 L677.20,578.50 L676.20,578.50 L675.20,578.50 L674.20,578.50 L673.20,578.50 L672.20,578.50 L671.20,578.50 M668.24,578.62 L667.92,578.67 L666.44,579.07 L665.20,579.70 L664.19,580.57 L663.42,581.67 L662.97,582.72 M662.50,585.63 L662.50,586.00 M662.50,586.20 L662.50,586.40 L662.50,587.40 L662.50,588.40 L662.50,589.40 L662.50,590.40 L662.50,591.40 L662.50,592.40 L662.50,593.40 M662.50,596.20 L662.50,596.40 L662.50,597.40 L662.50,598.40 L662.50,599.40 L662.50,600.40 L662.50,601.40 L662.50,602.40 L662.50,603.40 M662.50,606.20 L662.50,606.40 L662.50,607.40 L662.50,608.40 L662.50,609.40 L662.50,610.40 L662.50,611.40 L662.50,612.40 L662.50,613.40 M662.50,616.20 L662.50,616.40 L662.50,617.40 L662.50,618.40 L662.50,619.40 L662.50,620.40 L662.50,621.40 L662.50,622.40 L662.50,623.40 M662.50,626.20 L662.50,626.40 L662.50,627.40 L662.50,628.40 L662.50,629.40 L662.50,630.40 L662.50,631.40 L662.50,632.40 L662.50,633.40 M662.50,636.20 L662.50,636.40 L662.50,637.40 L662.50,638.40 L662.50,639.40 L662.50,640.40 L662.50,641.40 L662.50,642.40 L662.50,643.40 M662.50,646.20 L662.50,646.40 L662.50,647.40 L662.50,648.40 L662.50,649.40 L662.50,650.40 L662.50,651.40 L662.50,652.40 L662.50,653.40 M662.27,656.40 L662.20,656.70 L661.71,658.08 L660.98,659.23 L660.02,660.15 L658.82,660.83 L658.00,661.12 M653.80,661.50 L653.60,661.50 L652.60,661.50 L651.60,661.50 L650.60,661.50 L649.60,661.50 L648.60,661.50 L647.60,661.50 L646.60,661.50 L646.20,661.50 M643.80,661.50 L643.60,661.50 L642.60,661.50 L641.60,661.50 L640.60,661.50 L639.60,661.50 L638.60,661.50 L637.60,661.50 L636.60,661.50 L636.20,661.50 M633.80,661.50 L633.60,661.50 L632.60,661.50 L631.60,661.50 L630.60,661.50 L629.60,661.50 L628.60,661.50 L627.60,661.50 L626.60,661.50 L626.20,661.50 M623.80,661.50 L623.60,661.50 L622.60,661.50 L621.60,661.50 L620.60,661.50 L619.60,661.50 L618.60,661.50 L617.60,661.50 L616.60,661.50 L616.20,661.50 M613.80,661.50 L613.60,661.50 L612.60,661.50 L611.60,661.50 L610.60,661.50 L609.60,661.50 L608.60,661.50 L607.60,661.50 L606.60,661.50 L606.20,661.50 M603.80,661.50 L603.60,661.50 L602.60,661.50 L601.60,661.50 L600.60,661.50 L599.60,661.50 L598.60,661.50 L597.60,661.50 L596.60,661.50 L596.20,661.50 M593.80,661.50 L593.60,661.50 L592.60,661.50 L591.60,661.50 L590.60,661.50 L589.60,661.50 L588.60,661.50 L587.60,661.50 L586.60,661.50 L586.20,661.50 M583.80,661.50 L583.60,661.50 L582.60,661.50 L581.60,661.50 L580.60,661.50 L579.60,661.50 L578.60,661.50 L577.60,661.50 L576.60,661.50 L576.20,661.50 M573.80,661.50 L573.60,661.50 L572.60,661.50 L571.60,661.50 L570.60,661.50 L569.60,661.50 L568.60,661.50 L567.60,661.50 L566.60,661.50 L566.20,661.50" fill="none" stroke="#333" stroke-width="1"/>
<path d="M179.0,638 V733" fill="none" stroke="#444" stroke-width="1"/>
<path d="M825.5,638 V732" fill="none" stroke="#444" stroke-width="1"/>
<polygon points="443.60,211.00 436.20,206.85 436.20,215.15" fill="#000"/>
<polygon points="563.80,211.00 571.20,206.85 571.20,215.15" fill="#000"/>
<polygon points="507.50,263.00 503.35,270.40 511.65,270.40" fill="#000"/>
<polygon points="179.00,525.00 174.85,517.60 183.15,517.60" fill="#000"/>
<polygon points="825.50,526.80 821.35,519.40 829.65,519.40" fill="#000"/>
<polygon points="403.30,400.90 410.70,396.75 410.70,405.05" fill="#000"/>
<polygon points="604.30,400.30 596.90,396.15 596.90,404.45" fill="#000"/>
<polygon points="344.50,453.00 340.35,460.40 348.65,460.40" fill="#000"/>
<polygon points="238.30,577.50 245.70,573.35 245.70,581.65" fill="#000"/>
<polygon points="444.40,661.50 437.00,657.35 437.00,665.65" fill="#000"/>
<polygon points="768.00,578.40 760.60,574.25 760.60,582.55" fill="#000"/>
<polygon points="557.30,661.30 564.70,657.15 564.70,665.45" fill="#000"/>
<polygon points="179.00,631.60 174.85,639.00 183.15,639.00" fill="#000"/>
<polygon points="179.00,739.20 174.85,731.80 183.15,731.80" fill="#000"/>
<polygon points="825.50,632.40 821.35,639.80 829.65,639.80" fill="#000"/>
<polygon points="825.50,738.70 821.35,731.30 829.65,731.30" fill="#000"/>
<polygon points="474.50,159.95 533.50,159.95 563.00,211.20 533.50,262.45 474.50,262.45 445.00,211.20" fill="url(#gRed)" stroke="#000" stroke-opacity="0.8" stroke-width="1"/><polygon points="481.25,169.70 526.75,169.70 549.50,211.20 526.75,252.70 481.25,252.70 458.50,211.20" fill="#fff" stroke="#000" stroke-width="1" stroke-dasharray="2 2"/>
<polygon points="315.00,349.95 374.00,349.95 403.50,401.20 374.00,452.45 315.00,452.45 285.50,401.20" fill="url(#gBlue)" stroke="#000" stroke-opacity="0.8" stroke-width="1"/><polygon points="321.75,359.70 367.25,359.70 390.00,401.20 367.25,442.70 321.75,442.70 299.00,401.20" fill="#fff" stroke="#000" stroke-width="1" stroke-dasharray="2 2"/>
<polygon points="150.00,526.75 209.00,526.75 238.50,578.00 209.00,629.25 150.00,629.25 120.50,578.00" fill="url(#gGreen)" stroke="#000" stroke-opacity="0.8" stroke-width="1"/><polygon points="156.75,536.50 202.25,536.50 225.00,578.00 202.25,619.50 156.75,619.50 134.00,578.00" fill="#fff" stroke="#000" stroke-width="1" stroke-dasharray="2 2"/>
<polygon points="798.50,527.45 857.50,527.45 887.00,578.70 857.50,629.95 798.50,629.95 769.00,578.70" fill="url(#gGreen)" stroke="#000" stroke-opacity="0.8" stroke-width="1"/><polygon points="805.25,537.20 850.75,537.20 873.50,578.70 850.75,620.20 805.25,620.20 782.50,578.70" fill="#fff" stroke="#000" stroke-width="1" stroke-dasharray="2 2"/>
<path d="M605.5,361 A42.0,10 0 0 1 689.5,361 L689.5,431 A42.0,10 0 0 1 605.5,431 Z" fill="url(#gYel)" stroke="#000" stroke-opacity="0.72" stroke-width="1"/><path d="M605.5,361 A42.0,10 0 0 0 689.5,361" fill="none" stroke="#000" stroke-opacity="0.72" stroke-width="1"/>
<path d="M137.5,752 A42.0,10 0 0 1 221.5,752 L221.5,822 A42.0,10 0 0 1 137.5,822 Z" fill="url(#gYel)" stroke="#000" stroke-opacity="0.72" stroke-width="1"/><path d="M137.5,752 A42.0,10 0 0 0 221.5,752" fill="none" stroke="#000" stroke-opacity="0.72" stroke-width="1"/>
<path d="M784,751.5 A42.0,10 0 0 1 868,751.5 L868,821.5 A42.0,10 0 0 1 784,821.5 Z" fill="url(#gYel)" stroke="#000" stroke-opacity="0.72" stroke-width="1"/><path d="M784,751.5 A42.0,10 0 0 0 868,751.5" fill="none" stroke="#000" stroke-opacity="0.72" stroke-width="1"/>
<path d="M457.75,621 H544.75 A12.25,41.25 0 0 1 544.75,703.5 H457.75 A12.25,41.25 0 0 1 457.75,621 Z" fill="url(#gKafka)" stroke="#000" stroke-opacity="0.72" stroke-width="1"/>
<path d="M544.75,621 A12.25,41.25 0 0 0 544.75,703.5 A12.25,41.25 0 0 0 544.75,621" fill="#d5e5f5" stroke="#000" stroke-opacity="0.72" stroke-width="1"/>
<rect x="492" y="114.8" width="30" height="19.299999999999997" fill="#fff"/>
<rect x="224" y="288" width="30" height="18.5" fill="#fff"/>
<rect x="62" y="383" width="30" height="18.5" fill="#fff"/>
<rect x="912" y="389" width="30" height="19" fill="#fff"/>
<rect x="150" y="379.6" width="60" height="30.19999999999999" fill="#fff"/>
<rect x="796" y="388.9" width="60" height="30.900000000000034" fill="#fff"/>
<rect x="152" y="664.8" width="55" height="39.200000000000045" fill="#fff"/>
<rect x="798" y="668.5" width="55" height="38.60000000000002" fill="#fff"/>
<text transform="translate(462.19,70.10) scale(0.5842,1)" font-size="16.86" letter-spacing="0.922" fill="#262626" stroke="#fff" stroke-width="0.262">Discovery Service</text>
<text transform="translate(494.27,131.80) scale(0.5647,1)" font-size="15.77" letter-spacing="1.446" fill="#262626" stroke="#fff" stroke-width="0.266">HTTP</text>
<text transform="translate(297.47,238.80) scale(0.6676,1)" font-size="15.77" letter-spacing="1.087" fill="#262626" stroke="#fff" stroke-width="0.245">Commands/Query</text>
<text transform="translate(658.07,239.00) scale(0.6655,1)" font-size="15.77" letter-spacing="1.087" fill="#262626" stroke="#fff" stroke-width="0.245">Commands/Query</text>
<text transform="translate(226.16,304.90) scale(0.5739,1)" font-size="15.77" letter-spacing="1.446" fill="#262626" stroke="#fff" stroke-width="0.264">HTTP</text>
<text transform="translate(414.51,334.00) scale(0.6510,1)" font-size="15.77" letter-spacing="1.171" fill="#262626" stroke="#fff" stroke-width="0.248">Query</text>
<text transform="translate(446.64,388.70) scale(0.6655,1)" font-size="15.77" letter-spacing="0.776" fill="#262626" stroke="#fff" stroke-width="0.245">Binary Protocol (Bolt)</text>
<text transform="translate(601.04,465.40) scale(0.6621,1)" font-size="15.77" letter-spacing="0.850" fill="#262626" stroke="#fff" stroke-width="0.246">Materialized View</text>
<text transform="translate(64.16,399.90) scale(0.5739,1)" font-size="15.77" letter-spacing="1.446" fill="#262626" stroke="#fff" stroke-width="0.264">HTTP</text>
<text transform="translate(913.66,406.70) scale(0.5716,1)" font-size="15.77" letter-spacing="1.446" fill="#262626" stroke="#fff" stroke-width="0.265">HTTP</text>
<text transform="translate(406.81,542.80) scale(0.6117,1)" font-size="15.77" letter-spacing="1.030" fill="#262626" stroke="#fff" stroke-width="0.256">Events</text>
<text transform="translate(274.71,605.30) scale(0.6136,1)" font-size="15.77" letter-spacing="1.030" fill="#262626" stroke="#fff" stroke-width="0.255">Events</text>
<text transform="translate(693.70,606.10) scale(0.6155,1)" font-size="15.77" letter-spacing="1.030" fill="#262626" stroke="#fff" stroke-width="0.255">Events</text>
<text transform="translate(154.97,392.00) scale(1.0784,1)" font-size="11.63" letter-spacing="0.000" fill="#333" stroke="#fff" stroke-width="0.116">Reactive</text>
<text transform="translate(151.57,407.30) scale(1.0766,1)" font-size="11.63" letter-spacing="0.000" fill="#333" stroke="#fff" stroke-width="0.116">Endpoints</text>
<text transform="translate(801.68,401.90) scale(1.0715,1)" font-size="11.63" letter-spacing="0.000" fill="#333" stroke="#fff" stroke-width="0.116">Reactive</text>
<text transform="translate(797.97,416.90) scale(1.0766,1)" font-size="11.63" letter-spacing="0.000" fill="#333" stroke="#fff" stroke-width="0.116">Endpoints</text>
<text transform="translate(162.04,682.80) scale(0.5847,1)" font-size="15.77" letter-spacing="1.432" fill="#262626" stroke="#fff" stroke-width="0.262">R2DBC</text>
<text transform="translate(153.87,701.60) scale(0.6412,1)" font-size="15.77" letter-spacing="0.863" fill="#262626" stroke="#fff" stroke-width="0.250">(Reactive)</text>
<text transform="translate(808.85,686.40) scale(0.5812,1)" font-size="15.77" letter-spacing="1.432" fill="#262626" stroke="#fff" stroke-width="0.262">R2DBC</text>
<text transform="translate(800.47,705.30) scale(0.6424,1)" font-size="15.77" letter-spacing="0.863" fill="#262626" stroke="#fff" stroke-width="0.250">(Reactive)</text>
<text transform="translate(485.19,208.30) scale(0.6059,1)" font-size="14.24" letter-spacing="0.851" fill="#303030" stroke="#fff" stroke-width="0.257">Reactive</text>
<text transform="translate(484.55,226.20) scale(0.6247,1)" font-size="14.24" letter-spacing="1.027" fill="#303030" stroke="#fff" stroke-width="0.253">Gateway</text>
<text transform="translate(310.15,398.70) scale(0.6658,1)" font-size="11.85" letter-spacing="0.779" fill="#333" stroke="#fff" stroke-width="0.221">Recommendation</text>
<text transform="translate(330.76,414.00) scale(0.6228,1)" font-size="11.85" letter-spacing="0.712" fill="#333" stroke="#fff" stroke-width="0.228">Service</text>
<text transform="translate(165.05,574.80) scale(0.6441,1)" font-size="14.24" letter-spacing="0.851" fill="#303030" stroke="#fff" stroke-width="0.249">Friend</text>
<text transform="translate(163.61,592.70) scale(0.6076,1)" font-size="14.24" letter-spacing="0.856" fill="#303030" stroke="#fff" stroke-width="0.257">Service</text>
<text transform="translate(817.43,576.00) scale(0.6138,1)" font-size="14.24" letter-spacing="1.064" fill="#303030" stroke="#fff" stroke-width="0.255">User</text>
<text transform="translate(811.91,593.80) scale(0.6076,1)" font-size="14.24" letter-spacing="0.856" fill="#303030" stroke="#fff" stroke-width="0.257">Service</text>
<text transform="translate(634.11,397.80) scale(0.7135,1)" font-size="13.52" letter-spacing="0.925" fill="#2e2e2e" stroke="#fdefc6" stroke-width="0.213">Neo4j</text>
<text transform="translate(621.63,415.60) scale(0.6834,1)" font-size="13.52" letter-spacing="0.832" fill="#2e2e2e" stroke="#fdefc6" stroke-width="0.218">(Graph DB)</text>
<text transform="translate(161.10,788.60) scale(0.6313,1)" font-size="13.52" letter-spacing="0.821" fill="#2e2e2e" stroke="#fdefc6" stroke-width="0.227">Postgres</text>
<text transform="translate(163.38,806.70) scale(0.6233,1)" font-size="13.52" letter-spacing="1.014" fill="#2e2e2e" stroke="#fdefc6" stroke-width="0.228">(RDBC)</text>
<text transform="translate(807.10,787.60) scale(0.6313,1)" font-size="13.52" letter-spacing="0.821" fill="#2e2e2e" stroke="#fdefc6" stroke-width="0.227">Postgres</text>
<text transform="translate(809.38,805.70) scale(0.6233,1)" font-size="13.52" letter-spacing="1.014" fill="#2e2e2e" stroke="#fdefc6" stroke-width="0.228">(RDBC)</text>
<text transform="translate(476.98,661.10) scale(0.6572,1)" font-size="15.99" letter-spacing="0.563" fill="#1e2833" stroke="#bcd5ee" stroke-width="0.148">Apache</text>
<text transform="translate(482.18,680.20) scale(0.6218,1)" font-size="15.99" letter-spacing="0.521" fill="#1e2833" stroke="#bcd5ee" stroke-width="0.152">Kafka</text>
</svg>
</body></html>
